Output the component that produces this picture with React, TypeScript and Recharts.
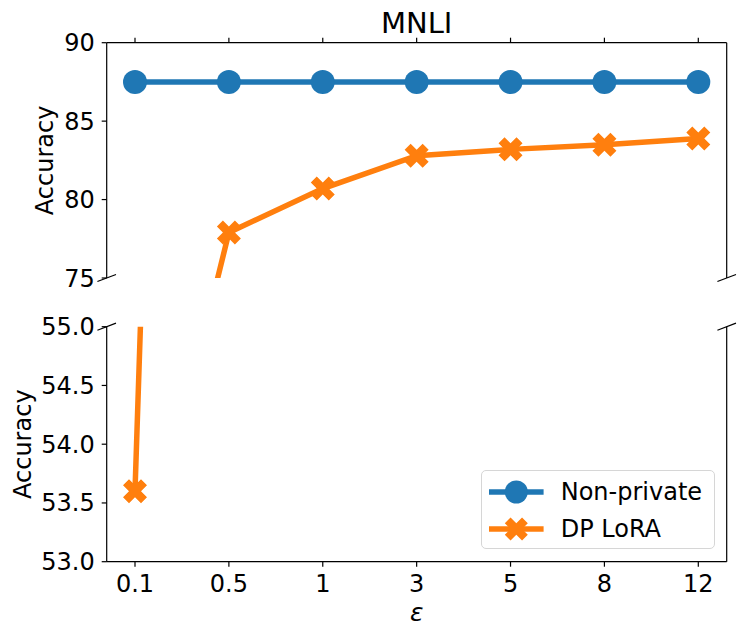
import React from 'react'
import { LineChart, Line, XAxis, YAxis, Legend, ReferenceLine } from 'recharts'

// privacy budgets on the x axis
const EPSILONS = ['0.1', '0.5', '1', '3', '5', '8', '12']
const NON_PRIVATE = [87.5, 87.5, 87.5, 87.5, 87.5, 87.5, 87.5]
const DP_LORA = [53.6, 77.9, 80.7, 82.8, 83.2, 83.5, 83.9]
const TOP_TICKS = [75, 80, 85, 90]
const BOTTOM_TICKS = [53, 53.5, 54, 54.5, 55]

const data = EPSILONS.map((eps, i) => ({ eps, nonPrivate: NON_PRIVATE[i], dpLora: DP_LORA[i] }))

const BLUE = '#1f77b4'
const ORANGE = '#ff7f0e'
const W = 747
const H = 638
const PLOT_L = 106.7
const PLOT_R = 726.7
const TOP_Y0 = 42.7
const TOP_Y1 = 278
const BOT_Y0 = 326.7
const BOT_Y1 = 561.7
const SPLIT = 300
const PAD = { left: 28.3, right: 28.4 }
const AX = 1 // thin axis band so recharts still draws the axis
const TOP_TICK_LEN = 5 / ((TOP_Y1 - TOP_Y0) / 15) // 5px expressed in accuracy units

const spine = { stroke: '#000', strokeWidth: 1.2 }
const tickText = { fill: '#000', fontSize: 24 }

// matplotlib's filled "X" marker, unit square
const X_PTS = [
  [-0.25, -0.5], [0, -0.25], [0.25, -0.5], [0.5, -0.25], [0.25, 0], [0.5, 0.25],
  [0.25, 0.5], [0, 0.25], [-0.25, 0.5], [-0.5, 0.25], [-0.25, 0], [-0.5, -0.25],
]
const xPoints = (cx: number, cy: number, s: number) =>
  X_PTS.map(([a, b]) => `${cx + a * s},${cy + b * s}`).join(' ')

const XDot = (props: any) => {
  const { cx, cy, index } = props
  if (cx == null || cy == null) return <g key={`x-${index}`} />
  return <polygon key={`x-${index}`} points={xPoints(cx, cy, 24)} fill={ORANGE} />
}

const circleDot = { r: 12, fill: BLUE, stroke: BLUE, strokeWidth: 0 }

const LegendRow = ({ marker, text }: { marker: 'o' | 'x'; text: string }) => (
  <div style={{ display: 'flex', alignItems: 'center', height: 37, lineHeight: 1 }}>
    <svg width={72} height={30} style={{ display: 'block' }}>
      <line x1={7} x2={61.6} y1={15} y2={15} stroke={marker === 'o' ? BLUE : ORANGE} strokeWidth={5.5} />
      {marker === 'o'
        ? <circle cx={34.3} cy={15} r={11.5} fill={BLUE} />
        : <polygon points={xPoints(34.3, 15, 23)} fill={ORANGE} />}
    </svg>
    <span style={{ fontSize: 24, marginLeft: 7, color: '#000' }}>{text}</span>
  </div>
)

const LegendBox = () => (
  <div
    style={{
      width: 234, height: 79, boxSizing: 'border-box', border: '1px solid #d6d6d6',
      borderRadius: 5, background: 'rgba(255,255,255,0.8)', paddingTop: 2,
    }}
  >
    <LegendRow marker="o" text="Non-private" />
    <LegendRow marker="x" text="DP LoRA" />
  </div>
)

// diagonal marks where the y axis is broken
const BreakMarks = () => {
  const dx = (PLOT_R - PLOT_L) * 0.015
  const dy = (TOP_Y1 - TOP_Y0) * 0.015
  const pts = [
    [PLOT_L, TOP_Y1], [PLOT_R, TOP_Y1], [PLOT_L, BOT_Y0], [PLOT_R, BOT_Y0],
  ]
  return (
    <svg width={W} height={H} style={{ position: 'absolute', left: 0, top: 0, pointerEvents: 'none' }}>
      {pts.map(([x, y], i) => (
        <line key={i} x1={x - dx} y1={y + dy} x2={x + dx} y2={y - dy} stroke="#000" strokeWidth={1.2} />
      ))}
    </svg>
  )
}

export default function App() {
  return (
    <div style={{ position: 'absolute', left: 0, top: 0, width: W, height: H, background: '#fff', fontFamily: '"DejaVu Sans", sans-serif' }}>
      <div style={{ position: 'absolute', left: 0, top: 0 }}>
        <LineChart
          width={W}
          height={SPLIT}
          data={data}
          margin={{ top: TOP_Y0 - AX, left: PLOT_L - AX, right: W - PLOT_R - AX, bottom: SPLIT - TOP_Y1 }}
        >
          <XAxis
            dataKey="eps"
            orientation="top"
            height={AX}
            interval={0}
            padding={PAD}
            tick={false}
            tickLine={false}
            axisLine={spine}
            label={{ value: 'MNLI', position: 'top', offset: 8.4, fontSize: 29, fill: '#000' }}
          />
          <YAxis
            domain={[75, 90]}
            ticks={TOP_TICKS}
            allowDataOverflow
            width={AX}
            tick={tickText}
            tickSize={5}
            tickMargin={7}
            tickLine={spine}
            axisLine={spine}
            label={{ value: 'Accuracy', angle: -90, position: 'center', dx: -61.5, fontSize: 24, fill: '#000' }}
          />
          <YAxis yAxisId="r" orientation="right" domain={[0, 1]} width={AX} tick={false} tickLine={false} axisLine={spine} />
          {/* upward tick marks on the top spine */}
          {EPSILONS.map((e) => (
            <ReferenceLine
              key={`top-${e}`}
              segment={[{ x: e, y: 90 }, { x: e, y: 90 + TOP_TICK_LEN }]}
              ifOverflow="visible"
              stroke="#000"
              strokeWidth={1.2}
            />
          ))}
          <Line dataKey="nonPrivate" name="Non-private" stroke={BLUE} strokeWidth={5.5} dot={circleDot} isAnimationActive={false} />
          <Line dataKey="dpLora" name="DP LoRA" stroke={ORANGE} strokeWidth={5.5} dot={XDot} isAnimationActive={false} />
        </LineChart>
      </div>
      <div style={{ position: 'absolute', left: 0, top: SPLIT }}>
        <LineChart
          width={W}
          height={H - SPLIT}
          data={data}
          margin={{ top: BOT_Y0 - SPLIT, left: PLOT_L - AX, right: W - PLOT_R - AX, bottom: H - BOT_Y1 - 40 }}
        >
          <XAxis
            dataKey="eps"
            height={40}
            interval={0}
            padding={PAD}
            tick={tickText}
            tickSize={5}
            tickMargin={8}
            tickLine={spine}
            axisLine={spine}
            label={{ value: 'ε', position: 'bottom', offset: 2, fontSize: 25, fontStyle: 'italic', fill: '#000' }}
          />
          <YAxis
            domain={[53, 55]}
            ticks={BOTTOM_TICKS}
            allowDataOverflow
            width={AX}
            tick={tickText}
            tickSize={5}
            tickMargin={7}
            tickLine={spine}
            axisLine={spine}
            tickFormatter={(v: number) => v.toFixed(1)}
            label={{ value: 'Accuracy', angle: -90, position: 'center', dx: -83.4, fontSize: 24, fill: '#000' }}
          />
          <YAxis yAxisId="r" orientation="right" domain={[0, 1]} width={AX} tick={false} tickLine={false} axisLine={spine} />
          <Line dataKey="nonPrivate" name="Non-private" stroke={BLUE} strokeWidth={5.5} dot={circleDot} isAnimationActive={false} />
          <Line dataKey="dpLora" name="DP LoRA" stroke={ORANGE} strokeWidth={5.5} dot={XDot} isAnimationActive={false} />
          <Legend
            layout="horizontal"
            verticalAlign="middle"
            align="center"
            wrapperStyle={{ left: 480.7, top: 470 - SPLIT, width: 'auto' }}
            content={() => <LegendBox />}
          />
        </LineChart>
      </div>
      <BreakMarks />
    </div>
  )
}
